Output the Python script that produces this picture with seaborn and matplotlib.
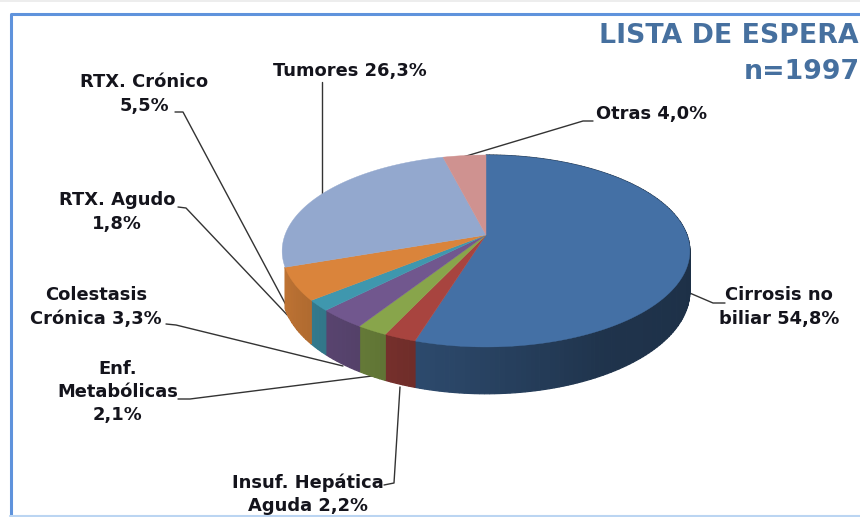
import numpy as np
import matplotlib
matplotlib.use("Agg")
import matplotlib.pyplot as plt
import seaborn as sns

names = ["Cirrosis no\nbiliar", "Insuf. Hepática\nAguda", "Enf.\nMetabólicas\n", "Colestasis\nCrónica",
         "RTX. Agudo\n", "RTX. Crónico\n", "Tumores", "Otras"]
values = [54.8, 2.2, 2.1, 3.3, 1.8, 5.5, 26.3, 4.0]
colors = ["#4470A5", "#A8443F", "#88A54B", "#71578E", "#3F97AE", "#DA843B", "#93A8CE", "#CF9290"]
title_lines = ["LISTA DE ESPERA", "n=1997"]

label_xy = [(779, 307), (308, 494), (118, 392), (96, 307), (117, 212), (144, 94), (350, 71), (652, 114)]
leaders = [[(725, 303), (713, 303), (685, 291)],
           [(384, 485), (394, 483), (400, 387)],
           [(178, 399), (190, 399), (372, 376)],
           [(166, 324), (176, 325), (343, 366)],
           [(178, 207), (186, 208), (292, 320)],
           [(175, 112), (183, 112), (294, 320)],
           [(322, 82), (322, 194)],
           [(593, 121), (583, 121), (463, 157)]]

sns.set_theme(style="white")
plt.rcParams["font.family"] = ["DejaVu Sans"]
fig = plt.figure(figsize=(8.6, 5.17), dpi=100)
ax = fig.add_axes([0, 0, 1, 1])
ax.set_xlim(0, 860)
ax.set_ylim(517, 0)
ax.axis("off")

cx, cy, b, a, k, depth = 486, 235, 201, 93.3, 1 / 6, 39


def project(theta, r=1.0):
    u, v = r * np.sin(theta), r * np.cos(theta)
    w = 1 + k * v
    return cx + b * u / w, cy - a * v / w, depth / w


def shade(col, f):
    return tuple(c * f for c in matplotlib.colors.to_rgb(col))


edges = np.radians(np.concatenate([[0], np.cumsum(values)]) * 3.6)

# side walls, split into narrow strips for the gradient; slices past the
# left-hand silhouette are hidden, as they are in the source
for i in range(len(values) - 2):
    t = np.linspace(edges[i], edges[i + 1], max(3, int(values[i] * 3)))
    for t0, t1 in zip(t[:-1], t[1:]):
        tt = np.linspace(t0, t1, 4)
        x, y, d = project(tt)
        deg = np.degrees((t0 + t1) / 2)
        f = np.interp(deg, [60, 150, 197, 215, 250], [0.40, 0.46, 0.66, 0.75, 0.87])
        ax.fill(np.r_[x, x[::-1]], np.r_[y, (y + d)[::-1]], color=shade(colors[i], f), lw=0.9, zorder=2)

# top face
for i in range(len(values)):
    x, y, _ = project(np.linspace(edges[i], edges[i + 1], 120))
    ax.fill(np.r_[cx, x], np.r_[cy, y], color=colors[i], lw=0.3, zorder=3)

# leader lines
for pts in leaders:
    xs, ys = zip(*pts)
    ax.plot(xs, ys, color="#333333", lw=1.0, zorder=1.5, solid_capstyle="round")

# labels
for n, v, (lx, ly) in zip(names, values, label_xy):
    sep = "" if n.endswith("\n") else " "
    txt = n + sep + f"{v:.1f}%".replace(".", ",")
    ax.text(lx, ly, txt, ha="center", va="center", fontsize=12.9, fontweight="bold",
            color="#14141c", linespacing=1.39, zorder=5)

# title, reaching the right edge as in the source image
ax.text(599, 36, title_lines[0], ha="left", va="center", fontsize=19.3, fontweight="bold",
        color="#46709F", zorder=5)
ax.text(744, 72, title_lines[1], ha="left", va="center", fontsize=19.3, fontweight="bold",
        color="#46709F", zorder=5)

# frame of the slide
ax.plot([860, 10.5, 10.5], [13.5, 13.5, 517], color="#5F93DC", lw=2.2, zorder=1)
ax.plot([10, 860], [516, 516], color="#BBD5F2", lw=1.5, zorder=1)
ax.fill([0, 860, 860, 0], [0, 0, 2, 2], color="#EDEDED", lw=0, zorder=0)

fig.savefig("out.png", dpi=100)
